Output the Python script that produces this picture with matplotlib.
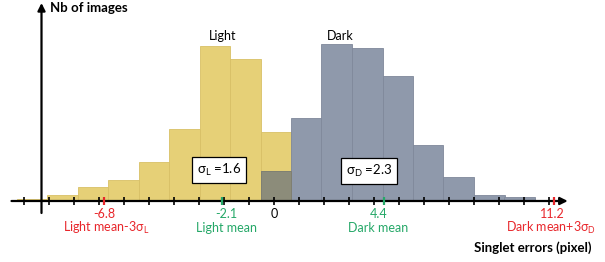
import numpy as np
import matplotlib
matplotlib.use('Agg')
import matplotlib.pyplot as plt

plt.rcParams['font.family'] = ['Lato', 'DejaVu Sans']
plt.rcParams['mathtext.fontset'] = 'custom'
plt.rcParams['mathtext.rm'] = 'Lato'

# histogram data (bins in pixel-error units)
bin_left = -10.3
bin_width = 1.22
light_counts = [2, 6, 14, 21, 39, 72, 155, 142, 69, 0, 0, 0, 0, 0, 0, 0, 0]
dark_counts = [0, 0, 0, 0, 0, 0, 0, 1, 30, 83, 157, 153, 125, 56, 24, 6, 4]

light_mean, light_sigma = -2.1, 1.6
dark_mean, dark_sigma = 4.4, 2.3
light_low = -6.8
dark_high = 11.2
axis_ticks = list(range(-10, 12))

c_light = '#E6D077'
c_dark = '#8F99AB'
c_both = '#8C8C7A'
c_red = '#E8262B'
c_green = '#25A868'

#%%
fig = plt.figure(figsize=(6.05, 2.62), dpi=100)
ax = fig.add_axes([0, 0, 1, 1])
ax.set_xlim(-274 / 25, (605 - 274) / 25)
ax.set_ylim(-61, 201)
ax.axis('off')

n = len(light_counts)
lefts = bin_left + bin_width * np.arange(n)
light = np.array(light_counts)
dark = np.array(dark_counts)
both = np.minimum(light, dark)

ax.bar(lefts, light, width=bin_width, align='edge', color=c_light,
       edgecolor='#D8C066', linewidth=0.6, zorder=1)
ax.bar(lefts, dark, width=bin_width, align='edge', color=c_dark,
       edgecolor='#7F889A', linewidth=0.6, zorder=2)
ax.bar(lefts, both, width=bin_width, align='edge', color=c_both,
       edgecolor='#7E7E6E', linewidth=0.6, zorder=3)

# x axis with arrow
ax.annotate('', xy=(11.75, 0), xytext=(-10.5, 0),
            arrowprops=dict(arrowstyle='-|>', lw=1.6, color='black',
                            mutation_scale=11, shrinkA=0, shrinkB=0), zorder=5)
# y axis with arrow
ax.annotate('', xy=(-9.3, 198), xytext=(-9.3, -12),
            arrowprops=dict(arrowstyle='-|>', lw=1.6, color='black',
                            mutation_scale=11, shrinkA=0, shrinkB=0), zorder=5)

ax.vlines(axis_ticks, -4, 4, color='black', lw=1.2, zorder=6)
ax.vlines([light_low, dark_high], -4, 4, color=c_red, lw=1.6, zorder=7)
ax.vlines([light_mean, dark_mean], -4, 4, color=c_green, lw=1.6, zorder=7)

fs = 9
ax.text(-8.96, 193.5, 'Nb of images', fontsize=fs + 0.5, fontweight='bold',
        ha='left', va='center')
ax.text(10.36, -47, 'Singlet errors (pixel)', fontsize=fs + 0.5, fontweight='bold',
        ha='center', va='center')
ax.text(-2.04, 165.5, 'Light', fontsize=fs, ha='center', va='center')
ax.text(2.64, 165.5, 'Dark', fontsize=fs, ha='center', va='center')

box = dict(boxstyle='square,pad=0.35', facecolor='white', edgecolor='black', lw=0.9)
ax.text(-2.2, 31, r'$\mathregular{\sigma_L}$ =%.1f' % light_sigma, fontsize=fs + 0.5,
        ha='center', va='center', bbox=box, zorder=8)
ax.text(3.8, 30, r'$\mathregular{\sigma_D}$ =%.1f' % dark_sigma, fontsize=fs + 0.5,
        ha='center', va='center', bbox=box, zorder=8)

ax.text(light_low, -12.5, '%.1f' % light_low, color=c_red, fontsize=fs, ha='center', va='center')
ax.text(light_mean + 0.2, -12.5, '%.1f' % light_mean, color=c_green, fontsize=fs, ha='center', va='center')
ax.text(0, -12.5, '0', color='black', fontsize=fs, ha='center', va='center')
ax.text(dark_mean - 0.2, -12.5, '%.1f' % dark_mean, color=c_green, fontsize=fs, ha='center', va='center')
ax.text(dark_high - 0.05, -12.5, '%.1f' % dark_high, color=c_red, fontsize=fs, ha='center', va='center')

ax.text(-6.7, -27, r'Light mean-3$\mathregular{\sigma_L}$', color=c_red, fontsize=fs, ha='center', va='center')
ax.text(-1.88, -27, 'Light mean', color=c_green, fontsize=fs, ha='center', va='center')
ax.text(4.18, -27, 'Dark mean', color=c_green, fontsize=fs, ha='center', va='center')
ax.text(11.08, -27, r'Dark mean+3$\mathregular{\sigma_D}$', color=c_red, fontsize=fs, ha='center', va='center')

fig.savefig('out.png', dpi=100)
